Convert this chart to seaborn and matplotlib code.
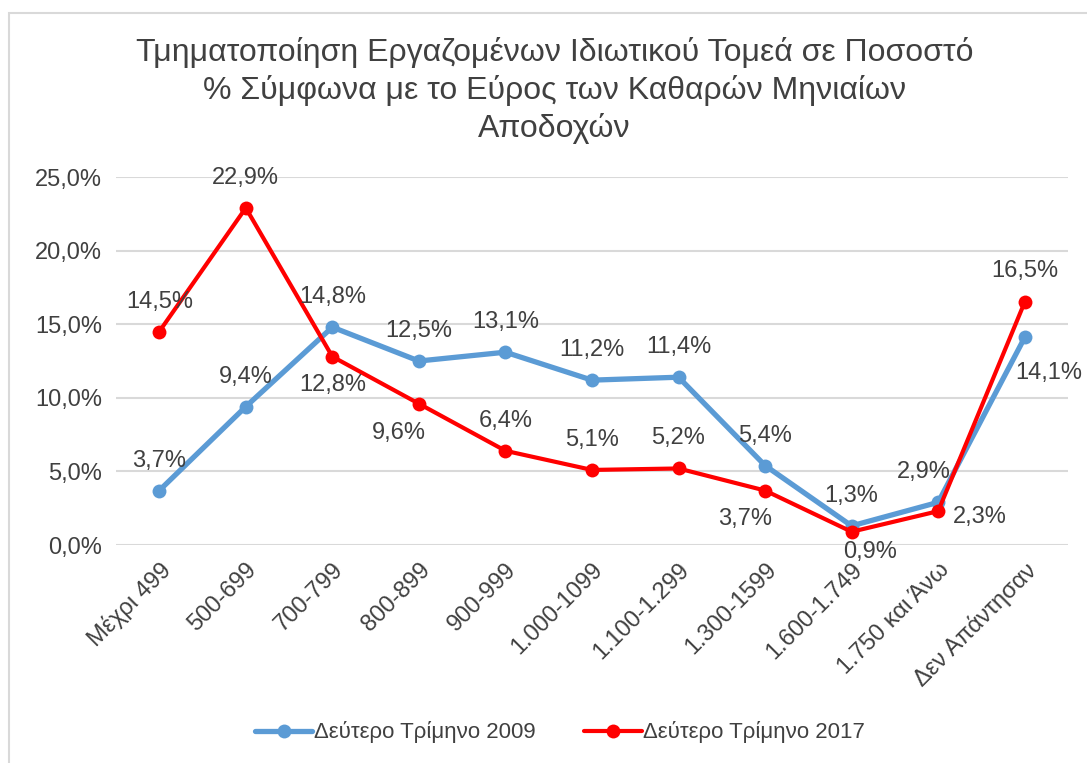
import pandas as pd
import matplotlib.pyplot as plt
import matplotlib.patches as patches
import seaborn as sns

categories = ['Μέχρι 499', '500-699', '700-799', '800-899', '900-999', '1.000-1099',
              '1.100-1.299', '1.300-1599', '1.600-1.749', '1.750 και Άνω', 'Δεν Απάντησαν']
q2_2009 = [3.7, 9.4, 14.8, 12.5, 13.1, 11.2, 11.4, 5.4, 1.3, 2.9, 14.1]
q2_2017 = [14.5, 22.9, 12.8, 9.6, 6.4, 5.1, 5.2, 3.7, 0.9, 2.3, 16.5]
series_names = ['Δεύτερο Τρίμηνο 2009', 'Δεύτερο Τρίμηνο 2017']
yticks = [0, 5, 10, 15, 20, 25]

# label offsets in pixels (dx, dy)
off_2009 = [(0, 30), (0, 30), (0, 30), (0, 30), (0, 30), (0, 30), (0, 30), (0, 30), (0, 30), (-14, 30), (24, -36)]
off_2017 = [(0, 30), (0, 30), (0, -28), (-20, -29), (0, 30), (0, 30), (0, 30), (-20, -28), (18, -20), (42, -6), (0, 31)]

sns.set_style('white')
plt.rcParams['font.family'] = ['Liberation Sans', 'DejaVu Sans']

df = pd.DataFrame({'cat': categories, 'v2009': q2_2009, 'v2017': q2_2017})
df['x'] = range(len(categories))

fig = plt.figure(figsize=(10.87, 7.63), dpi=100)
ax = fig.add_axes([0.1067, 0.2857, 0.8758, 0.4823])

blue = '#5B9BD5'
red = '#FF0000'
sns.lineplot(data=df, x='x', y='v2009', ax=ax, color=blue, linewidth=3.8,
             marker='o', markersize=10, markeredgewidth=0, label=series_names[0])
sns.lineplot(data=df, x='x', y='v2017', ax=ax, color=red, linewidth=3.0,
             marker='o', markersize=10, markeredgewidth=0, label=series_names[1])

txt = '#404040'
for i, v in enumerate(q2_2009):
    ax.annotate(f'{v:.1f}%'.replace('.', ','), (i, v), xytext=off_2009[i],
                textcoords='offset pixels', ha='center', va='center', fontsize=17, color=txt)
for i, v in enumerate(q2_2017):
    ax.annotate(f'{v:.1f}%'.replace('.', ','), (i, v), xytext=off_2017[i],
                textcoords='offset pixels', ha='center', va='center', fontsize=17, color=txt)

ax.set_xlim(-0.5, len(categories) - 0.5)
ax.set_ylim(0, 25)
ax.set_yticks(yticks)
ax.set_yticklabels([f'{t:.1f}%'.replace('.', ',') for t in yticks], fontsize=17, color='#404040')
ax.set_xticks(range(len(categories)))
ax.set_xticklabels(categories, rotation=45, ha='right', rotation_mode='anchor',
                   fontsize=17, color='#404040')
ax.tick_params(axis='both', length=0, pad=10)
ax.yaxis.grid(True, color='#D9D9D9', linewidth=1.5)
ax.set_axisbelow(True)
for s in ax.spines.values():
    s.set_visible(False)
ax.set_xlabel('')
ax.set_ylabel('')

ax.legend(loc='center', bbox_to_anchor=(0.515, 0.04), bbox_transform=fig.transFigure,
          ncol=2, frameon=False, fontsize=16, handlelength=2.6, columnspacing=2.2,
          handletextpad=0.05, labelcolor='#404040')

fig.text(0.51, 0.952, 'Τμηματοποίηση Εργαζομένων Ιδιωτικού Τομεά σε Ποσοστό\n'
         '% Σύμφωνα με το Εύρος των Καθαρών Μηνιαίων\nΑποδοχών',
         ha='center', va='top', fontsize=23, color='#404040', linespacing=1.3)

fig.patches.append(patches.Rectangle((9 / 1087, -0.1), 1.2, 1 - 13 / 763 + 0.1,
                                     transform=fig.transFigure, fill=False,
                                     edgecolor='#D9D9D9', linewidth=1.5))

fig.savefig('out.png', dpi=100)
